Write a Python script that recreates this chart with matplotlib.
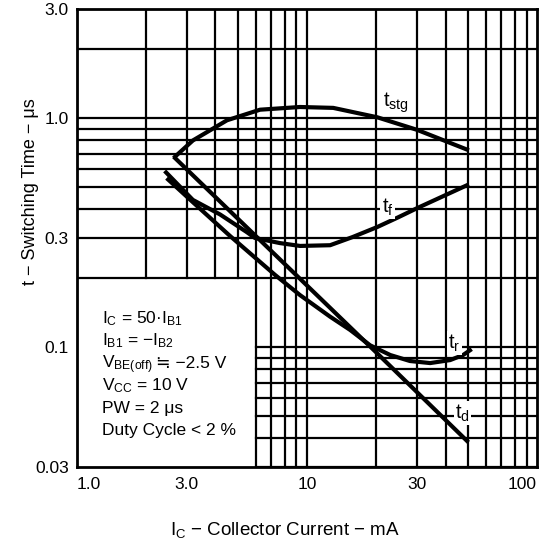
import numpy as np
import matplotlib
matplotlib.use("Agg")
import matplotlib.pyplot as plt

plt.rcParams['font.family'] = ['Liberation Sans', 'DejaVu Sans']
plt.rcParams['mathtext.fontset'] = 'custom'
plt.rcParams['mathtext.rm'] = 'Liberation Sans'
plt.rcParams['mathtext.it'] = 'Liberation Sans:italic'

# values (Ic in mA, t in us)
tstg_x = [2.67, 3.19, 4.49, 6.25, 9.32, 13.0, 20.2, 30.1, 49.6]
tstg_y = [0.68, 0.80, 0.98, 1.09, 1.12, 1.11, 1.01, 0.89, 0.73]

tf_x = [2.44, 3.19, 4.19, 5.48, 5.94, 7.63, 9.32, 12.6, 15.8, 20.2, 25.0, 30.1, 49.6]
tf_y = [0.58, 0.44, 0.38, 0.318, 0.30, 0.285, 0.277, 0.279, 0.303, 0.335, 0.37, 0.405, 0.51]

tr_x = [2.49, 3.19, 4.63, 7.26, 9.32, 12.6, 15.4, 18.8, 23.0, 28.0, 34.3, 41.9, 47.7, 51.1]
tr_y = [0.54, 0.43, 0.306, 0.207, 0.169, 0.136, 0.119, 0.102, 0.0925, 0.0871, 0.0853, 0.0879, 0.0925, 0.097]

td_x = [2.67, 20.2, 49.6]
td_y = [0.67, 0.094, 0.039]

xticks = [1, 3, 10, 30, 100]
xticklabels = ["1.0", "3.0", "10", "30", "100"]
yticks = [0.03, 0.1, 0.3, 1, 3]
yticklabels = ["0.03", "0.1", "0.3", "1.0", "3.0"]

# second part is plain text so the ≒ sign can come from DejaVu Sans
conditions = [(r"I$_{\rm C}$ = 50·I$_{\rm B1}$", ""),
              (r"I$_{\rm B1}$ = −I$_{\rm B2}$", ""),
              (r"V$_{\rm BE(off)}$", "≒ −2.5 V"),
              (r"V$_{\rm CC}$ = 10 V", ""),
              ("PW = 2 μs", ""),
              ("Duty Cycle < 2 %", "")]

fig = plt.figure(figsize=(5.48, 5.46), dpi=100)
ax = fig.add_axes([0.1405, 0.1447, 0.8395, 0.8388])
ax.set_xscale('log')
ax.set_yscale('log')
ax.set_xlim(1, 100)
ax.set_ylim(0.03, 3)

# grid by hand (the chart has a blank area for the conditions)
for dec in [1, 10]:
    for k in range(2, 10):
        v = k * dec
        if v <= 5:
            ax.plot([v, v], [0.2, 3], color='black', lw=1.6, zorder=1)
        else:
            ax.plot([v, v], [0.03, 3], color='black', lw=1.6, zorder=1)
for dec in [0.01, 0.1, 1]:
    for k in range(1, 10):
        v = k * dec
        if v < 0.03 or v >= 3:
            continue
        if v < 0.2:
            ax.plot([6, 100], [v, v], color='black', lw=1.6, zorder=1)
        else:
            ax.plot([1, 100], [v, v], color='black', lw=1.6, zorder=1)
ax.plot([10, 10], [0.03, 3], color='black', lw=1.6, zorder=1)

ax.plot(tstg_x, tstg_y, color='black', lw=3, zorder=3)
ax.plot(tf_x, tf_y, color='black', lw=3, zorder=3)
ax.plot(tr_x, tr_y, color='black', lw=3, zorder=3)
ax.plot(td_x, td_y, color='black', lw=3, zorder=3)

bb = dict(facecolor='white', edgecolor='none', pad=1)
ax.text(21.4, 1.17, r"t$_{\rm stg}$", fontsize=14.5, va='center', ha='left', bbox=bb, zorder=4)
ax.text(21.1, 0.41, r"t$_{\rm f}$", fontsize=14.5, va='center', ha='left', bbox=bb, zorder=4)
ax.text(41.0, 0.104, r"t$_{\rm r}$", fontsize=14.5, va='center', ha='left', bbox=bb, zorder=4)
ax.text(44.0, 0.0516, r"t$_{\rm d}$", fontsize=14.5, va='center', ha='left', bbox=bb, zorder=4)

for i, (first, rest) in enumerate(conditions):
    yy = 0.314 - i * 0.049
    t = ax.text(0.055, yy, first, transform=ax.transAxes,
                fontsize=12.5, va='baseline', ha='left')
    if rest:
        ax.annotate(rest, xy=(1, yy), xycoords=(t, 'axes fraction'),
                    xytext=(2, 0), textcoords='offset points',
                    fontsize=12.5, va='baseline', ha='left')

ax.set_xticks(xticks)
ax.set_xticklabels(xticklabels)
ax.set_yticks(yticks)
ax.set_yticklabels(yticklabels)
ax.minorticks_off()
ax.tick_params(length=0, labelsize=12.5)
ax.tick_params(axis='x', pad=7)
ax.tick_params(axis='y', pad=6)
xl = ax.get_xticklabels()
xl[0].set_ha('left')
xl[-1].set_ha('right')
for s in ax.spines.values():
    s.set_linewidth(2)

fig.text(0.055, 1 - 192 / 546, "t − Switching Time − μs", rotation=90,
         fontsize=13, ha='center', va='center')
fig.text(285 / 548, 1 - 530 / 546, r"I$_{\rm C}$ − Collector Current − mA",
         fontsize=13.5, ha='center', va='center')

fig.savefig("out.png", dpi=100)
